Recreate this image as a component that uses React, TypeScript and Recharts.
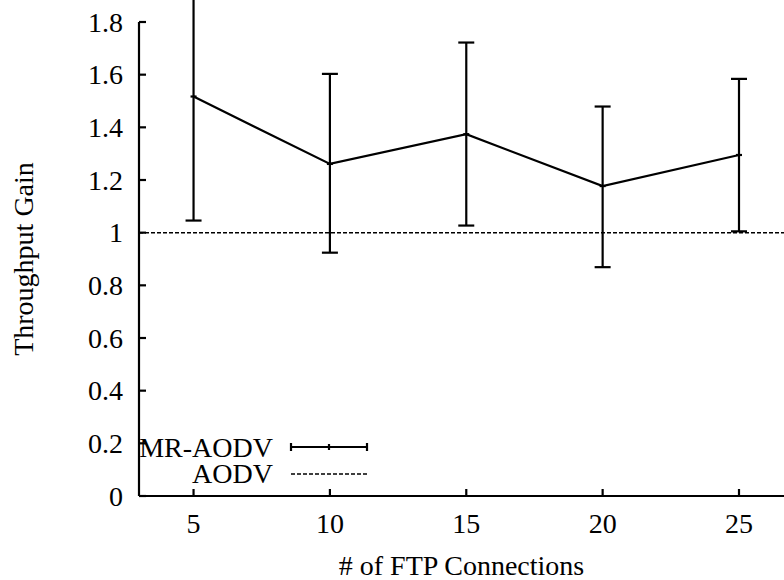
import React from "react";
import {
  LineChart,
  Line,
  XAxis,
  YAxis,
  ErrorBar,
  ReferenceLine,
  Legend,
  Label,
} from "recharts";

const CONNECTIONS = [5, 10, 15, 20, 25];
const MR_AODV_GAIN = [1.517, 1.261, 1.374, 1.177, 1.295];
const MR_AODV_LOW = [1.046, 0.924, 1.027, 0.869, 1.005];
const MR_AODV_HIGH = [1.99, 1.603, 1.722, 1.479, 1.584];
const AODV_GAIN = 1;
const X_TICKS = [5, 10, 15, 20, 25];
const Y_TICKS = [0, 0.2, 0.4, 0.6, 0.8, 1, 1.2, 1.4, 1.6, 1.8];
const SERIES_NAMES = ["MR-AODV", "AODV"];

const data = CONNECTIONS.map((c, i) => ({
  conns: c,
  gain: MR_AODV_GAIN[i],
  err: [MR_AODV_GAIN[i] - MR_AODV_LOW[i], MR_AODV_HIGH[i] - MR_AODV_GAIN[i]],
}));

const W = 784;
const H = 580;
const PLOT_LEFT = 139;
const PLOT_TOP = 22;
const PLOT_BOTTOM = 496;
const FONT = "'Liberation Serif', 'Times New Roman', serif";
const FS = 28;
const SW = 2.2;

const fmt = (v: number) => String(Number(v.toFixed(1)));

function YTick({ y, payload }: any) {
  return (
    <g>
      <line x1={PLOT_LEFT} x2={PLOT_LEFT + 7} y1={y} y2={y} stroke="#000" strokeWidth={SW} />
      <text
        x={PLOT_LEFT - 16}
        y={y}
        textAnchor="end"
        dominantBaseline="central"
        fontFamily={FONT}
        fontSize={FS}
        fill="#000"
      >
        {fmt(payload.value)}
      </text>
    </g>
  );
}

function XTick({ x, payload }: any) {
  return (
    <g>
      <line x1={x} x2={x} y1={PLOT_BOTTOM} y2={PLOT_BOTTOM - 7} stroke="#000" strokeWidth={SW} />
      <text x={x} y={PLOT_BOTTOM + 37} textAnchor="middle" fontFamily={FONT} fontSize={FS} fill="#000">
        {payload.value}
      </text>
    </g>
  );
}

function TopTick({ x }: any) {
  return <line x1={x} x2={x} y1={PLOT_TOP} y2={PLOT_TOP + 7} stroke="#000" strokeWidth={SW} />;
}

function PointMark({ cx, cy }: any) {
  if (cx == null || cy == null) return null;
  return <line x1={cx - 3} x2={cx + 3} y1={cy} y2={cy} stroke="#000" strokeWidth={SW} />;
}

function KeyBox() {
  return (
    <svg width={300} height={70} style={{ display: "block" }}>
      <text x={173} y={32} textAnchor="end" fontFamily={FONT} fontSize={FS} fill="#000">
        {SERIES_NAMES[0]}
      </text>
      <line x1={191} x2={267} y1={22} y2={22} stroke="#000" strokeWidth={SW} />
      <line x1={191} x2={191} y1={18} y2={26} stroke="#000" strokeWidth={SW} />
      <line x1={267} x2={267} y1={18} y2={26} stroke="#000" strokeWidth={SW} />
      <line x1={229} x2={229} y1={19} y2={25} stroke="#000" strokeWidth={SW} />
      <text x={173} y={58} textAnchor="end" fontFamily={FONT} fontSize={FS} fill="#000">
        {SERIES_NAMES[1]}
      </text>
      <line x1={191} x2={267} y1={49} y2={49} stroke="#000" strokeWidth={1.5} strokeDasharray="4 2" />
    </svg>
  );
}

export default function App() {
  return (
    <div style={{ position: "absolute", left: 0, top: 0, width: W, height: H, background: "#fff" }}>
      <LineChart
        width={W}
        height={H}
        data={data}
        margin={{ top: PLOT_TOP, right: 0, left: 0, bottom: 0 }}
      >
        <XAxis
          dataKey="conns"
          type="number"
          domain={[3, 26.65]}
          allowDataOverflow
          ticks={X_TICKS}
          height={H - PLOT_BOTTOM}
          tickLine={false}
          axisLine={{ stroke: "#000", strokeWidth: SW }}
          tick={<XTick />}
        >
          <Label
            content={({ viewBox }: any) => (
              <text
                x={viewBox.x + viewBox.width / 2}
                y={575}
                textAnchor="middle"
                fontFamily={FONT}
                fontSize={FS}
                fill="#000"
              >
                # of FTP Connections
              </text>
            )}
          />
        </XAxis>
        <XAxis
          xAxisId="top"
          orientation="top"
          dataKey="conns"
          type="number"
          domain={[3, 26.65]}
          allowDataOverflow
          ticks={X_TICKS}
          height={0}
          tickLine={false}
          axisLine={{ stroke: "#000", strokeWidth: SW }}
          tick={<TopTick />}
        />
        <YAxis
          type="number"
          domain={[0, 1.8]}
          allowDataOverflow
          ticks={Y_TICKS}
          width={PLOT_LEFT}
          tickLine={false}
          axisLine={{ stroke: "#000", strokeWidth: SW }}
          tick={<YTick />}
        >
          <Label
            content={({ viewBox }: any) => {
              const cy = viewBox.y + viewBox.height / 2;
              return (
                <text
                  x={23}
                  y={cy}
                  transform={`rotate(-90 23 ${cy})`}
                  textAnchor="middle"
                  dominantBaseline="central"
                  fontFamily={FONT}
                  fontSize={FS}
                  fill="#000"
                >
                  Throughput Gain
                </text>
              );
            }}
          />
        </YAxis>
        <ReferenceLine y={AODV_GAIN} stroke="#000" strokeWidth={1.5} strokeDasharray="4 2" />
        <Line
          type="linear"
          dataKey="gain"
          name={SERIES_NAMES[0]}
          stroke="#000"
          strokeWidth={SW}
          dot={<PointMark />}
          activeDot={false}
          isAnimationActive={false}
        >
          <ErrorBar dataKey="err" direction="y" width={8} stroke="#000" strokeWidth={SW} isAnimationActive={false} />
        </Line>
        <Legend
          layout="horizontal"
          verticalAlign="middle"
          align="center"
          wrapperStyle={{ left: 100, top: 425, width: 300, height: 70 }}
          content={() => <KeyBox />}
        />
      </LineChart>
    </div>
  );
}
